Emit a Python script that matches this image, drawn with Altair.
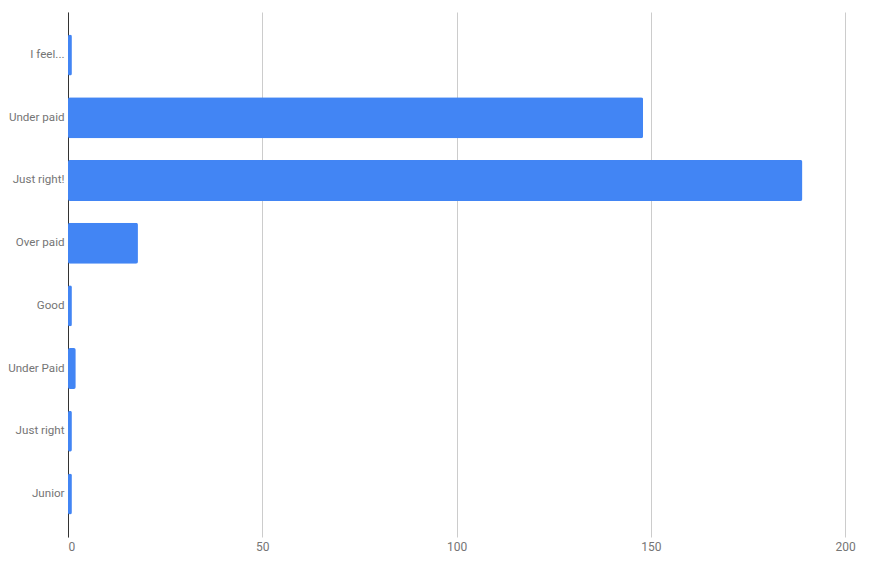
import altair as alt
import pandas as pd

categories = ["I feel...", "Under paid", "Just right!", "Over paid", "Good", "Under Paid", "Just right", "Junior"]
counts = [1, 148, 189, 18, 1, 2, 1, 1]
x_ticks = [0, 50, 100, 150, 200]

df = pd.DataFrame({"category": categories, "count": counts})

chart = alt.Chart(df).mark_bar(color="#4285F4", cornerRadius=2).encode(
    x=alt.X("count:Q",
            scale=alt.Scale(domain=[0, 204.6], nice=False),
            axis=alt.Axis(values=x_ticks, title=None, domain=False, ticks=False,
                          grid=True, gridColor="#cccccc", gridWidth=1,
                          labelColor="#757575", labelFont="Roboto", labelFontSize=12,
                          labelPadding=4)),
    y=alt.Y("category:N", sort=categories,
            scale=alt.Scale(paddingInner=0.346, paddingOuter=0.36),
            axis=alt.Axis(title=None, ticks=False, grid=False, domain=True,
                          domainColor="#333333", domainWidth=1,
                          labelColor="#757575", labelFont="Roboto", labelFontSize=11.6,
                          labelPadding=4)),
).properties(
    width=795, height=525,
    background="white",
    autosize=alt.AutoSizeParams(type="none"),
    padding={"left": 60, "top": 4, "right": 0, "bottom": 15},
).configure_view(strokeWidth=0, stroke="transparent")

chart.save("out.html", embed_options={"renderer": "svg", "actions": False})
